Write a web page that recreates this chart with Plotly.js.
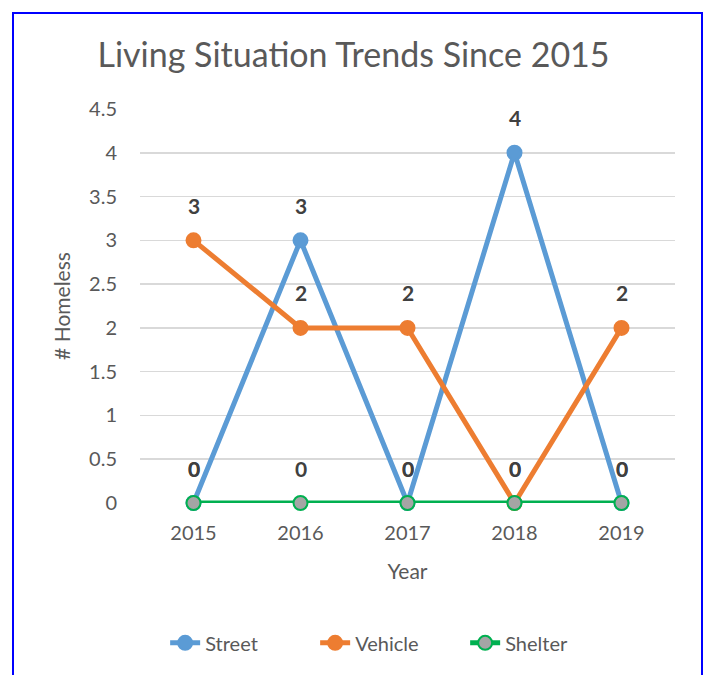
<!DOCTYPE html>
<html>
<head>
<meta charset="utf-8">
<script src="https://cdn.plot.ly/plotly-3.0.1.min.js"></script>
<style>
html,body{margin:0;padding:0;background:#fff;width:707px;height:675px;overflow:hidden;}
#frame{position:absolute;left:12px;top:12px;width:691px;height:700px;border:2px solid #0000FF;box-sizing:border-box;}
#chart{position:absolute;left:0;top:0;width:707px;height:675px;}
</style>
</head>
<body>
<div id="frame"></div>
<div id="chart"></div>
<script>
const years = ['2015','2016','2017','2018','2019'];
const street = [0,3,0,4,0];
const vehicle = [3,2,2,0,2];
const shelter = [0,0,0,0,0];
const yTicks = [0,0.5,1,1.5,2,2.5,3,3.5,4,4.5];

const FONT = 'Lato, "Open Sans", sans-serif';
const series = [
  {name:'Street', y:street, color:'#5B9BD5', fill:'#5B9BD5'},
  {name:'Vehicle', y:vehicle, color:'#ED7D31', fill:'#ED7D31'},
  {name:'Shelter', y:shelter, color:'#00B050', fill:'#A5A5A5'}
];
const traces = series.map(s => ({
  type:'scatter', mode:'lines+markers', name:s.name, x:years, y:s.y,
  line:{color:s.color, width:5},
  marker:{size:14, color:s.fill, line:{color:s.color, width:2}},
  cliponaxis:false,
  hoverinfo:'skip'
}));
const annotations = [];
series.forEach(s => {
  s.y.forEach((v,i) => {
    annotations.push({x:i, y:v, xref:'x', yref:'y', text:'<b>'+v+'</b>',
      showarrow:false, yshift:35, font:{family:FONT, size:21, color:'#404040'}});
  });
});
const layout = {
  width:707, height:675,
  paper_bgcolor:'rgba(0,0,0,0)', plot_bgcolor:'rgba(0,0,0,0)',
  margin:{l:140, r:32, t:109, b:172, pad:0},
  title:{text:'Living Situation Trends Since 2015', x:0.5, xanchor:'center', y:0.918, yanchor:'middle',
    font:{family:FONT, size:34, color:'#595959'}},
  xaxis:{type:'category', range:[-0.5,4.5], showgrid:false, zeroline:false, showline:false,
    ticks:'', tickfont:{family:FONT, size:20, color:'#595959'}, ticklabelstandoff:16,
    title:{text:'Year', font:{family:FONT, size:21, color:'#595959'}, standoff:21}},
  yaxis:{range:[0,4.5], tickvals:yTicks, ticktext:yTicks.map(String), showgrid:true, gridcolor:'#D9D9D9', gridwidth:1.5,
    zeroline:false, showline:false, ticks:'', tickfont:{family:FONT, size:20, color:'#595959'}, ticklabelstandoff:22,
    title:{text:'# Homeless', font:{family:FONT, size:21, color:'#595959'}, standoff:12}},
  showlegend:true,
  legend:{orientation:'h', x:0.047, xanchor:'left', y:-0.355, yanchor:'middle', entrywidth:105,
    font:{family:FONT, size:20, color:'#595959'}, traceorder:'normal'},
  annotations:annotations
};
Plotly.newPlot('chart', traces, layout, {displayModeBar:false, staticPlot:true});
</script>
</body>
</html>
